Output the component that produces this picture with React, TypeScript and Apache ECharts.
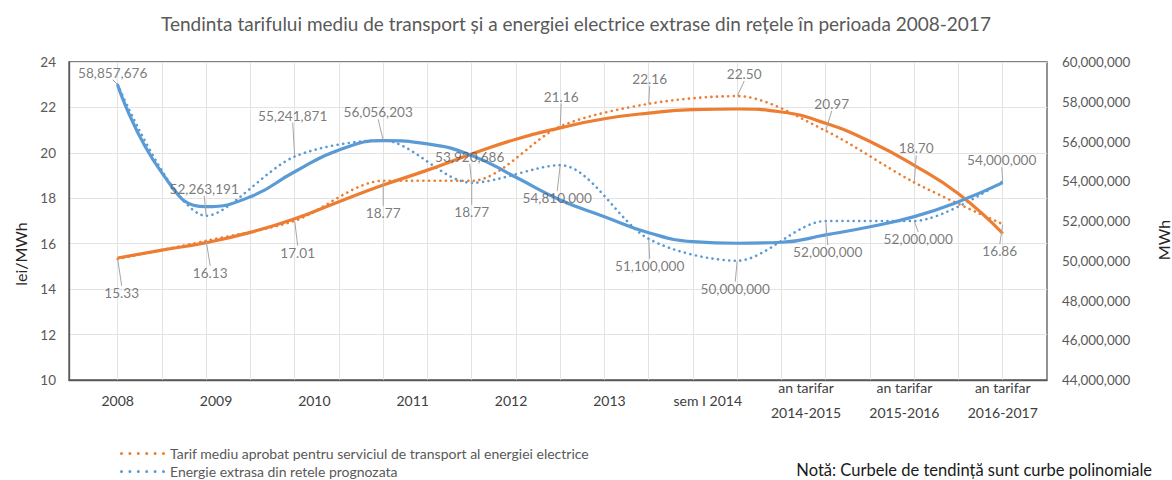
import React, { useEffect, useRef } from "react";
import * as echarts from "echarts";

// ---- data ----
const xLabels = [
  "2008",
  "2009",
  "2010",
  "2011",
  "2012",
  "2013",
  "sem I 2014",
  "an tarifar\n2014-2015",
  "an tarifar\n2015-2016",
  "an tarifar\n2016-2017",
];

// tarif mediu (lei/MWh), 11 observations
const tarif = [15.33, 16.13, 17.01, 18.77, 18.77, 21.16, 22.16, 22.5, 20.97, 18.7, 16.86];
// energie extrasa (MWh), 11 observations
const energie = [
  58857676, 52263191, 55241871, 56056203, 53920686, 54810000, 51100000, 50000000, 52000000,
  52000000, 54000000,
];

// polynomial trend curves at half steps (0, 0.5, ... 10)
const trendTarif = [
  15.37, 15.72, 16.05, 16.5, 17.1, 17.85, 18.58, 19.24, 19.95, 20.6, 21.1, 21.5, 21.75, 21.9,
  21.93, 21.8, 21.3, 20.5, 19.45, 18.2, 16.45,
];
const trendEnergie = [
  58.84, 54.42, 52.72, 53.22, 54.48, 55.57, 56.04, 55.88, 55.3, 54.2, 53.06, 52.22, 51.41,
  50.96, 50.88, 50.93, 51.3, 51.71, 52.22, 52.97, 53.93,
].map((v) => v * 1000000);

const leftTicks = { min: 10, max: 24, interval: 2 };
const rightTicks = { min: 44000000, max: 60000000, interval: 2000000 };

const seriesNames = [
  "Tarif mediu aprobat pentru serviciul de transport al energiei electrice",
  "Energie extrasa din retele prognozata",
];

// label offsets (layout only)
const tarifLabelOffsets = [
  [4, 34], [4, 32], [3, 32], [0, 32], [0, 31], [1, -30], [1, -25], [7, -22], [6, -27], [2, -34], [-3, 27],
];
const energieLabelOffsets = [
  [-5, -12], [-2, -27], [-2, -41], [-5, -28], [-2, -26], [-3, 33], [1, 27], [-2, 28], [2, 31], [4, 18], [-1, -21],
];

const ORANGE = "#ED7D31";
const BLUE = "#5B9BD5";
const FONT = "Lato";
const DOTS_ICON =
  "path://M0,1.5a1.5,1.5 0 1,0 3,0a1.5,1.5 0 1,0 -3,0z" +
  "M8.4,1.5a1.5,1.5 0 1,0 3,0a1.5,1.5 0 1,0 -3,0z" +
  "M16.8,1.5a1.5,1.5 0 1,0 3,0a1.5,1.5 0 1,0 -3,0z" +
  "M25.2,1.5a1.5,1.5 0 1,0 3,0a1.5,1.5 0 1,0 -3,0z" +
  "M33.6,1.5a1.5,1.5 0 1,0 3,0a1.5,1.5 0 1,0 -3,0z" +
  "M42,1.5a1.5,1.5 0 1,0 3,0a1.5,1.5 0 1,0 -3,0z";

export default function App() {
  const ref = useRef<HTMLDivElement>(null);

  useEffect(() => {
    if (!ref.current) return;
    const chart = echarts.init(ref.current, undefined, { renderer: "svg" });

    const gridVals: number[] = [];
    for (let i = 0; i <= 20; i++) gridVals.push(i / 2);
    const labelVals = xLabels.map((_, i) => (i * 10) / (xLabels.length - 1));

    const dotted = { type: [0.1, 5.5] as any, cap: "round" as const, width: 2.6 };

    const fmtNum = (v: number) => v.toLocaleString("en-US");

    const legendBase = {
      left: 120,
      padding: 0,
      itemWidth: 45,
      itemHeight: 3,
      textStyle: { fontFamily: FONT, fontSize: 14, color: "#595959", lineHeight: 15 },
    };

    chart.setOption({
      animation: false,
      textStyle: { fontFamily: FONT },
      grid: {
        left: 69,
        right: 125,
        top: 62,
        bottom: 100,
        show: true,
        borderColor: "#595959",
        borderWidth: 1.3,
      },
      legend: [
        { ...legendBase, top: 446, data: [{ name: seriesNames[0], icon: DOTS_ICON }] },
        { ...legendBase, top: 464, data: [{ name: seriesNames[1], icon: DOTS_ICON }] },
      ],
      xAxis: {
        type: "value",
        min: -0.55,
        max: 10.5,
        axisLine: { show: true, onZero: false, lineStyle: { color: "#595959", width: 1.3 } },
        axisTick: { show: false, customValues: gridVals },
        splitLine: { show: true, lineStyle: { color: "#e3e3e3", width: 1 } },
        axisLabel: {
          customValues: labelVals,
          formatter: (v: number) => xLabels[Math.round((v * (xLabels.length - 1)) / 10)],
          color: "#404040",
          fontFamily: FONT,
          fontSize: 14,
          lineHeight: 25,
          margin: 20,
          verticalAlign: "middle",
          align: "center",
        },
      },
      yAxis: [
        {
          type: "value",
          ...leftTicks,
          position: "left",
          axisLine: { show: true, onZero: false, lineStyle: { color: "#595959", width: 1.3 } },
          axisTick: { show: false },
          splitLine: { show: true, lineStyle: { color: "#e3e3e3", width: 1 } },
          axisLabel: { color: "#595959", fontFamily: FONT, fontSize: 13.5, margin: 13 },
        },
        {
          type: "value",
          ...rightTicks,
          position: "right",
          axisLine: { show: false, onZero: false },
          axisTick: { show: false },
          splitLine: { show: false },
          axisLabel: {
            color: "#595959",
            fontFamily: FONT,
            fontSize: 13.4,
            margin: 15,
            formatter: (v: number) => fmtNum(v),
          },
        },
      ],
      graphic: [
        {
          type: "text",
          x: 576,
          y: 23,
          style: {
            text: "Tendinta tarifului mediu de transport și a energiei electrice extrase din rețele în perioada 2008-2017",
            fill: "#595959",
            font: `19px ${FONT}`,
            align: "center",
            verticalAlign: "middle",
          },
        },
        {
          type: "text",
          x: 20,
          y: 254,
          rotation: Math.PI / 2,
          style: {
            text: "lei/MWh",
            fill: "#262626",
            font: `16px ${FONT}`,
            align: "center",
            verticalAlign: "middle",
          },
        },
        {
          type: "text",
          x: 1163,
          y: 240,
          rotation: Math.PI / 2,
          style: {
            text: "MWh",
            fill: "#262626",
            font: `16px ${FONT}`,
            align: "center",
            verticalAlign: "middle",
          },
        },
        {
          type: "text",
          x: 1152,
          y: 470,
          style: {
            text: "Notă: Curbele de tendință sunt curbe polinomiale",
            fill: "#1a1a1a",
            font: `16.5px ${FONT}`,
            align: "right",
            verticalAlign: "middle",
          },
        },
      ],
      series: [
        {
          name: seriesNames[0],
          type: "line",
          yAxisIndex: 0,
          data: tarif.map((v, i) => [i, v]),
          symbol: "none",
          smooth: 0.3,
          lineStyle: { color: ORANGE, ...dotted },
          itemStyle: { color: ORANGE },
          z: 3,
        },
        {
          name: seriesNames[1],
          type: "line",
          yAxisIndex: 1,
          data: energie.map((v, i) => [i, v]),
          symbol: "none",
          smooth: 0.3,
          lineStyle: { color: BLUE, ...dotted },
          itemStyle: { color: BLUE },
          z: 3,
        },
        {
          name: "trend tarif",
          type: "line",
          yAxisIndex: 0,
          data: trendTarif.map((v, i) => [i / 2, v]),
          symbol: "none",
          smooth: 0.5,
          lineStyle: { color: ORANGE, width: 3.2 },
          itemStyle: { color: ORANGE },
          z: 4,
        },
        {
          name: "trend energie",
          type: "line",
          yAxisIndex: 1,
          data: trendEnergie.map((v, i) => [i / 2, v]),
          symbol: "none",
          smooth: 0.5,
          lineStyle: { color: BLUE, width: 3.2 },
          itemStyle: { color: BLUE },
          z: 4,
        },
        {
          name: "labels tarif",
          type: "scatter",
          yAxisIndex: 0,
          data: tarif.map((v, i) => [i, v]),
          symbolSize: 1,
          itemStyle: { color: "transparent" },
          z: 6,
          label: {
            show: true,
            position: "inside",
            formatter: (p: any) => p.value[1].toFixed(2),
            color: "#595959",
            fontFamily: FONT,
            fontSize: 13.6,
          },
          labelLine: { show: true, lineStyle: { color: "#a6a6a6", width: 1 } },
          labelLayout: (p: any) => ({
            dx: tarifLabelOffsets[p.dataIndex][0],
            dy: tarifLabelOffsets[p.dataIndex][1],
          }),
        },
        {
          name: "labels energie",
          type: "scatter",
          yAxisIndex: 1,
          data: energie.map((v, i) => [i, v]),
          symbolSize: 1,
          itemStyle: { color: "transparent" },
          z: 6,
          label: {
            show: true,
            position: "inside",
            formatter: (p: any) => fmtNum(p.value[1]),
            color: "#595959",
            fontFamily: FONT,
            fontSize: 13.6,
          },
          labelLine: { show: true, lineStyle: { color: "#a6a6a6", width: 1 } },
          labelLayout: (p: any) => ({
            dx: energieLabelOffsets[p.dataIndex][0],
            dy: energieLabelOffsets[p.dataIndex][1],
          }),
        },
      ],
    });

    return () => chart.dispose();
  }, []);

  return (
    <div
      ref={ref}
      style={{ position: "fixed", left: 0, top: 0, width: 1172, height: 480, background: "#fff" }}
    />
  );
}
